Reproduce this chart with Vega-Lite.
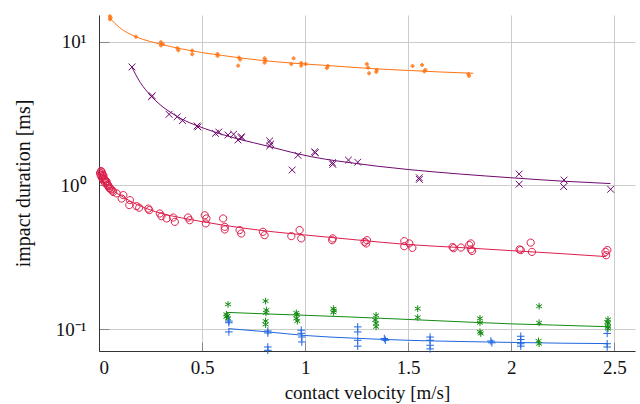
{
  "$schema": "https://vega.github.io/schema/vega-lite/v6.json",
  "width": 536,
  "height": 336,
  "autosize": "none",
  "padding": {"left": 99, "top": 15, "right": 5, "bottom": 53},
  "background": "white",
  "config": {
    "font": "Liberation Serif",
    "view": {"stroke": null}
  },
  "datasets": {
    "pts": [
      {"s": "T2–10 mm", "x": 0.053, "y": 15.0}, {"s": "T2–10 mm", "x": 0.053, "y": 14.3}, {"s": "T2–10 mm", "x": 0.056, "y": 14.6},
      {"s": "T2–10 mm", "x": 0.179, "y": 10.8}, {"s": "T2–10 mm", "x": 0.30, "y": 9.9}, {"s": "T2–10 mm", "x": 0.30, "y": 9.4},
      {"s": "T2–10 mm", "x": 0.31, "y": 9.6}, {"s": "T2–10 mm", "x": 0.38, "y": 9.0}, {"s": "T2–10 mm", "x": 0.385, "y": 8.7},
      {"s": "T2–10 mm", "x": 0.452, "y": 8.65}, {"s": "T2–10 mm", "x": 0.452, "y": 8.16}, {"s": "T2–10 mm", "x": 0.575, "y": 8.2},
      {"s": "T2–10 mm", "x": 0.575, "y": 7.95}, {"s": "T2–10 mm", "x": 0.679, "y": 7.73}, {"s": "T2–10 mm", "x": 0.675, "y": 6.8},
      {"s": "T2–10 mm", "x": 0.685, "y": 7.5}, {"s": "T2–10 mm", "x": 0.803, "y": 7.65}, {"s": "T2–10 mm", "x": 0.803, "y": 7.13},
      {"s": "T2–10 mm", "x": 0.808, "y": 7.4}, {"s": "T2–10 mm", "x": 0.933, "y": 6.98}, {"s": "T2–10 mm", "x": 0.944, "y": 7.65},
      {"s": "T2–10 mm", "x": 0.981, "y": 7.1}, {"s": "T2–10 mm", "x": 0.981, "y": 6.8}, {"s": "T2–10 mm", "x": 1.002, "y": 6.98},
      {"s": "T2–10 mm", "x": 1.11, "y": 6.76}, {"s": "T2–10 mm", "x": 1.105, "y": 6.55}, {"s": "T2–10 mm", "x": 1.299, "y": 6.98},
      {"s": "T2–10 mm", "x": 1.305, "y": 6.6}, {"s": "T2–10 mm", "x": 1.31, "y": 6.02}, {"s": "T2–10 mm", "x": 1.347, "y": 6.35},
      {"s": "T2–10 mm", "x": 1.345, "y": 6.15}, {"s": "T2–10 mm", "x": 1.521, "y": 6.76}, {"s": "T2–10 mm", "x": 1.567, "y": 6.87},
      {"s": "T2–10 mm", "x": 1.583, "y": 6.35}, {"s": "T2–10 mm", "x": 1.578, "y": 6.2}, {"s": "T2–10 mm", "x": 1.792, "y": 5.95},
      {"s": "T2–10 mm", "x": 1.795, "y": 5.77},
      {"s": "SAA", "x": 0.160, "y": 6.66}, {"s": "SAA", "x": 0.255, "y": 4.14}, {"s": "SAA", "x": 0.258, "y": 4.2},
      {"s": "SAA", "x": 0.340, "y": 3.12}, {"s": "SAA", "x": 0.379, "y": 3.0}, {"s": "SAA", "x": 0.405, "y": 2.82},
      {"s": "SAA", "x": 0.476, "y": 2.59}, {"s": "SAA", "x": 0.48, "y": 2.55}, {"s": "SAA", "x": 0.565, "y": 2.30},
      {"s": "SAA", "x": 0.581, "y": 2.35}, {"s": "SAA", "x": 0.626, "y": 2.24}, {"s": "SAA", "x": 0.653, "y": 2.27},
      {"s": "SAA", "x": 0.691, "y": 2.18}, {"s": "SAA", "x": 0.674, "y": 2.07}, {"s": "SAA", "x": 0.69, "y": 2.14},
      {"s": "SAA", "x": 0.828, "y": 2.04}, {"s": "SAA", "x": 0.828, "y": 1.88}, {"s": "SAA", "x": 0.833, "y": 1.94},
      {"s": "SAA", "x": 0.965, "y": 1.62}, {"s": "SAA", "x": 0.937, "y": 1.28}, {"s": "SAA", "x": 1.045, "y": 1.71},
      {"s": "SAA", "x": 1.05, "y": 1.69}, {"s": "SAA", "x": 1.134, "y": 1.40}, {"s": "SAA", "x": 1.132, "y": 1.44},
      {"s": "SAA", "x": 1.210, "y": 1.50}, {"s": "SAA", "x": 1.255, "y": 1.45}, {"s": "SAA", "x": 1.554, "y": 1.13},
      {"s": "SAA", "x": 1.554, "y": 1.10}, {"s": "SAA", "x": 2.038, "y": 1.20}, {"s": "SAA", "x": 2.038, "y": 1.02},
      {"s": "SAA", "x": 2.256, "y": 1.09}, {"s": "SAA", "x": 2.254, "y": 0.98}, {"s": "SAA", "x": 2.482, "y": 0.94},
      {"s": "PVC", "x": 0.005, "y": 1.22}, {"s": "PVC", "x": 0.008, "y": 1.18}, {"s": "PVC", "x": 0.01, "y": 1.26},
      {"s": "PVC", "x": 0.012, "y": 1.15}, {"s": "PVC", "x": 0.014, "y": 1.21}, {"s": "PVC", "x": 0.016, "y": 1.12},
      {"s": "PVC", "x": 0.02, "y": 1.16}, {"s": "PVC", "x": 0.022, "y": 1.08}, {"s": "PVC", "x": 0.026, "y": 1.11},
      {"s": "PVC", "x": 0.03, "y": 1.04}, {"s": "PVC", "x": 0.034, "y": 1.07}, {"s": "PVC", "x": 0.04, "y": 1.01},
      {"s": "PVC", "x": 0.045, "y": 0.99}, {"s": "PVC", "x": 0.05, "y": 0.96}, {"s": "PVC", "x": 0.058, "y": 0.94},
      {"s": "PVC", "x": 0.065, "y": 0.92}, {"s": "PVC", "x": 0.013, "y": 1.24}, {"s": "PVC", "x": 0.021, "y": 1.18},
      {"s": "PVC", "x": 0.029, "y": 1.09}, {"s": "PVC", "x": 0.037, "y": 1.06}, {"s": "PVC", "x": 0.045, "y": 1.0},
      {"s": "PVC", "x": 0.053, "y": 0.953}, {"s": "PVC", "x": 0.069, "y": 0.90}, {"s": "PVC", "x": 0.086, "y": 0.88},
      {"s": "PVC", "x": 0.118, "y": 0.856}, {"s": "PVC", "x": 0.11, "y": 0.81}, {"s": "PVC", "x": 0.15, "y": 0.79},
      {"s": "PVC", "x": 0.147, "y": 0.73}, {"s": "PVC", "x": 0.182, "y": 0.718}, {"s": "PVC", "x": 0.195, "y": 0.70},
      {"s": "PVC", "x": 0.239, "y": 0.69}, {"s": "PVC", "x": 0.244, "y": 0.673}, {"s": "PVC", "x": 0.295, "y": 0.638},
      {"s": "PVC", "x": 0.303, "y": 0.611}, {"s": "PVC", "x": 0.328, "y": 0.589}, {"s": "PVC", "x": 0.36, "y": 0.598},
      {"s": "PVC", "x": 0.368, "y": 0.558}, {"s": "PVC", "x": 0.432, "y": 0.598}, {"s": "PVC", "x": 0.44, "y": 0.573},
      {"s": "PVC", "x": 0.513, "y": 0.62}, {"s": "PVC", "x": 0.521, "y": 0.589}, {"s": "PVC", "x": 0.518, "y": 0.544},
      {"s": "PVC", "x": 0.602, "y": 0.589}, {"s": "PVC", "x": 0.61, "y": 0.515}, {"s": "PVC", "x": 0.61, "y": 0.494},
      {"s": "PVC", "x": 0.682, "y": 0.489}, {"s": "PVC", "x": 0.69, "y": 0.463}, {"s": "PVC", "x": 0.795, "y": 0.476},
      {"s": "PVC", "x": 0.803, "y": 0.451}, {"s": "PVC", "x": 0.933, "y": 0.444}, {"s": "PVC", "x": 0.973, "y": 0.489},
      {"s": "PVC", "x": 0.981, "y": 0.428}, {"s": "PVC", "x": 1.131, "y": 0.416}, {"s": "PVC", "x": 1.134, "y": 0.428},
      {"s": "PVC", "x": 1.288, "y": 0.405}, {"s": "PVC", "x": 1.296, "y": 0.395}, {"s": "PVC", "x": 1.30, "y": 0.416},
      {"s": "PVC", "x": 1.481, "y": 0.41}, {"s": "PVC", "x": 1.481, "y": 0.378}, {"s": "PVC", "x": 1.505, "y": 0.395},
      {"s": "PVC", "x": 1.52, "y": 0.368}, {"s": "PVC", "x": 1.715, "y": 0.373}, {"s": "PVC", "x": 1.72, "y": 0.366},
      {"s": "PVC", "x": 1.756, "y": 0.37}, {"s": "PVC", "x": 1.796, "y": 0.385}, {"s": "PVC", "x": 1.804, "y": 0.395},
      {"s": "PVC", "x": 1.81, "y": 0.35}, {"s": "PVC", "x": 1.804, "y": 0.359}, {"s": "PVC", "x": 2.04, "y": 0.359},
      {"s": "PVC", "x": 2.046, "y": 0.355}, {"s": "PVC", "x": 2.094, "y": 0.40}, {"s": "PVC", "x": 2.10, "y": 0.345},
      {"s": "PVC", "x": 2.457, "y": 0.345}, {"s": "PVC", "x": 2.46, "y": 0.327}, {"s": "PVC", "x": 2.466, "y": 0.355},
      {"s": "aluminum 1ˢᵗ", "x": 0.626, "y": 0.149}, {"s": "aluminum 1ˢᵗ", "x": 0.618, "y": 0.127}, {"s": "aluminum 1ˢᵗ", "x": 0.618, "y": 0.122},
      {"s": "aluminum 1ˢᵗ", "x": 0.626, "y": 0.119}, {"s": "aluminum 1ˢᵗ", "x": 0.622, "y": 0.124}, {"s": "aluminum 1ˢᵗ", "x": 0.808, "y": 0.157},
      {"s": "aluminum 1ˢᵗ", "x": 0.812, "y": 0.136}, {"s": "aluminum 1ˢᵗ", "x": 0.808, "y": 0.114}, {"s": "aluminum 1ˢᵗ", "x": 0.808, "y": 0.108},
      {"s": "aluminum 1ˢᵗ", "x": 0.81, "y": 0.13}, {"s": "aluminum 1ˢᵗ", "x": 0.957, "y": 0.130}, {"s": "aluminum 1ˢᵗ", "x": 0.957, "y": 0.119},
      {"s": "aluminum 1ˢᵗ", "x": 0.962, "y": 0.114}, {"s": "aluminum 1ˢᵗ", "x": 0.96, "y": 0.126}, {"s": "aluminum 1ˢᵗ", "x": 1.137, "y": 0.139},
      {"s": "aluminum 1ˢᵗ", "x": 1.137, "y": 0.131}, {"s": "aluminum 1ˢᵗ", "x": 1.14, "y": 0.135}, {"s": "aluminum 1ˢᵗ", "x": 1.344, "y": 0.125},
      {"s": "aluminum 1ˢᵗ", "x": 1.344, "y": 0.110}, {"s": "aluminum 1ˢᵗ", "x": 1.344, "y": 0.104}, {"s": "aluminum 1ˢᵗ", "x": 1.34, "y": 0.116},
      {"s": "aluminum 1ˢᵗ", "x": 1.546, "y": 0.139}, {"s": "aluminum 1ˢᵗ", "x": 1.546, "y": 0.121}, {"s": "aluminum 1ˢᵗ", "x": 1.848, "y": 0.119},
      {"s": "aluminum 1ˢᵗ", "x": 1.848, "y": 0.111}, {"s": "aluminum 1ˢᵗ", "x": 1.848, "y": 0.096}, {"s": "aluminum 1ˢᵗ", "x": 1.852, "y": 0.0935},
      {"s": "aluminum 1ˢᵗ", "x": 2.135, "y": 0.1445}, {"s": "aluminum 1ˢᵗ", "x": 2.135, "y": 0.111}, {"s": "aluminum 1ˢᵗ", "x": 2.132, "y": 0.083},
      {"s": "aluminum 1ˢᵗ", "x": 2.135, "y": 0.0793}, {"s": "aluminum 1ˢᵗ", "x": 2.469, "y": 0.117}, {"s": "aluminum 1ˢᵗ", "x": 2.469, "y": 0.110},
      {"s": "aluminum 1ˢᵗ", "x": 2.469, "y": 0.104}, {"s": "aluminum 1ˢᵗ", "x": 2.469, "y": 0.101}, {"s": "aluminum 1ˢᵗ", "x": 2.466, "y": 0.112},
      {"s": "steel 1ˢᵗ", "x": 0.630, "y": 0.114}, {"s": "steel 1ˢᵗ", "x": 0.630, "y": 0.111}, {"s": "steel 1ˢᵗ", "x": 0.630, "y": 0.0958},
      {"s": "steel 1ˢᵗ", "x": 0.819, "y": 0.0973}, {"s": "steel 1ˢᵗ", "x": 0.819, "y": 0.0942}, {"s": "steel 1ˢᵗ", "x": 0.819, "y": 0.0753},
      {"s": "steel 1ˢᵗ", "x": 0.819, "y": 0.0714}, {"s": "steel 1ˢᵗ", "x": 0.981, "y": 0.0985}, {"s": "steel 1ˢᵗ", "x": 0.981, "y": 0.0938},
      {"s": "steel 1ˢᵗ", "x": 0.984, "y": 0.0883}, {"s": "steel 1ˢᵗ", "x": 0.984, "y": 0.0816}, {"s": "steel 1ˢᵗ", "x": 1.255, "y": 0.1038},
      {"s": "steel 1ˢᵗ", "x": 1.255, "y": 0.0958}, {"s": "steel 1ˢᵗ", "x": 1.255, "y": 0.0838}, {"s": "steel 1ˢᵗ", "x": 1.255, "y": 0.0763},
      {"s": "steel 1ˢᵗ", "x": 1.384, "y": 0.0862}, {"s": "steel 1ˢᵗ", "x": 1.389, "y": 0.0838}, {"s": "steel 1ˢᵗ", "x": 1.606, "y": 0.0883},
      {"s": "steel 1ˢᵗ", "x": 1.606, "y": 0.0838}, {"s": "steel 1ˢᵗ", "x": 1.606, "y": 0.0774}, {"s": "steel 1ˢᵗ", "x": 1.606, "y": 0.073},
      {"s": "steel 1ˢᵗ", "x": 1.901, "y": 0.0829}, {"s": "steel 1ˢᵗ", "x": 1.906, "y": 0.0805}, {"s": "steel 1ˢᵗ", "x": 2.046, "y": 0.0894},
      {"s": "steel 1ˢᵗ", "x": 2.046, "y": 0.0848}, {"s": "steel 1ˢᵗ", "x": 2.046, "y": 0.0793}, {"s": "steel 1ˢᵗ", "x": 2.046, "y": 0.0763},
      {"s": "steel 1ˢᵗ", "x": 2.465, "y": 0.0935}, {"s": "steel 1ˢᵗ", "x": 2.465, "y": 0.0793}, {"s": "steel 1ˢᵗ", "x": 2.465, "y": 0.0753}
    ],
    "fit": [
      {"s": "T2–10 mm", "x": 0.053, "y": 14.5}, {"s": "T2–10 mm", "x": 0.1, "y": 12.5}, {"s": "T2–10 mm", "x": 0.179, "y": 10.8},
      {"s": "T2–10 mm", "x": 0.25, "y": 10.0}, {"s": "T2–10 mm", "x": 0.303, "y": 9.55}, {"s": "T2–10 mm", "x": 0.4, "y": 8.9},
      {"s": "T2–10 mm", "x": 0.497, "y": 8.4}, {"s": "T2–10 mm", "x": 0.6, "y": 8.0}, {"s": "T2–10 mm", "x": 0.7, "y": 7.65},
      {"s": "T2–10 mm", "x": 0.852, "y": 7.25}, {"s": "T2–10 mm", "x": 1.0, "y": 6.98}, {"s": "T2–10 mm", "x": 1.15, "y": 6.75},
      {"s": "T2–10 mm", "x": 1.312, "y": 6.5}, {"s": "T2–10 mm", "x": 1.5, "y": 6.3}, {"s": "T2–10 mm", "x": 1.65, "y": 6.15},
      {"s": "T2–10 mm", "x": 1.815, "y": 6.02},
      {"s": "SAA", "x": 0.158, "y": 6.7}, {"s": "SAA", "x": 0.2, "y": 5.2}, {"s": "SAA", "x": 0.252, "y": 4.2},
      {"s": "SAA", "x": 0.3, "y": 3.6}, {"s": "SAA", "x": 0.35, "y": 3.2}, {"s": "SAA", "x": 0.4, "y": 2.9},
      {"s": "SAA", "x": 0.476, "y": 2.6}, {"s": "SAA", "x": 0.55, "y": 2.38}, {"s": "SAA", "x": 0.65, "y": 2.15},
      {"s": "SAA", "x": 0.75, "y": 1.98}, {"s": "SAA", "x": 0.828, "y": 1.86}, {"s": "SAA", "x": 0.962, "y": 1.66},
      {"s": "SAA", "x": 1.1, "y": 1.52}, {"s": "SAA", "x": 1.2, "y": 1.45}, {"s": "SAA", "x": 1.35, "y": 1.36},
      {"s": "SAA", "x": 1.5, "y": 1.29}, {"s": "SAA", "x": 1.75, "y": 1.2}, {"s": "SAA", "x": 2.0, "y": 1.13},
      {"s": "SAA", "x": 2.25, "y": 1.07}, {"s": "SAA", "x": 2.481, "y": 1.03},
      {"s": "PVC", "x": 0.005, "y": 1.2}, {"s": "PVC", "x": 0.01, "y": 1.15}, {"s": "PVC", "x": 0.02, "y": 1.08},
      {"s": "PVC", "x": 0.04, "y": 0.99}, {"s": "PVC", "x": 0.07, "y": 0.91}, {"s": "PVC", "x": 0.1, "y": 0.86},
      {"s": "PVC", "x": 0.15, "y": 0.78}, {"s": "PVC", "x": 0.2, "y": 0.72}, {"s": "PVC", "x": 0.3, "y": 0.64},
      {"s": "PVC", "x": 0.4, "y": 0.595}, {"s": "PVC", "x": 0.5, "y": 0.56}, {"s": "PVC", "x": 0.6, "y": 0.53},
      {"s": "PVC", "x": 0.7, "y": 0.505}, {"s": "PVC", "x": 0.85, "y": 0.475}, {"s": "PVC", "x": 1.0, "y": 0.452},
      {"s": "PVC", "x": 1.25, "y": 0.418}, {"s": "PVC", "x": 1.5, "y": 0.388}, {"s": "PVC", "x": 1.75, "y": 0.37},
      {"s": "PVC", "x": 2.0, "y": 0.352}, {"s": "PVC", "x": 2.25, "y": 0.335}, {"s": "PVC", "x": 2.46, "y": 0.32},
      {"s": "aluminum 1ˢᵗ", "x": 0.62, "y": 0.131}, {"s": "aluminum 1ˢᵗ", "x": 0.8, "y": 0.128}, {"s": "aluminum 1ˢᵗ", "x": 1.0, "y": 0.125},
      {"s": "aluminum 1ˢᵗ", "x": 1.2, "y": 0.122}, {"s": "aluminum 1ˢᵗ", "x": 1.5, "y": 0.117}, {"s": "aluminum 1ˢᵗ", "x": 1.8, "y": 0.112},
      {"s": "aluminum 1ˢᵗ", "x": 2.0, "y": 0.109}, {"s": "aluminum 1ˢᵗ", "x": 2.2, "y": 0.107}, {"s": "aluminum 1ˢᵗ", "x": 2.48, "y": 0.104},
      {"s": "steel 1ˢᵗ", "x": 0.63, "y": 0.101}, {"s": "steel 1ˢᵗ", "x": 0.82, "y": 0.0958}, {"s": "steel 1ˢᵗ", "x": 1.0, "y": 0.0905},
      {"s": "steel 1ˢᵗ", "x": 1.25, "y": 0.0865}, {"s": "steel 1ˢᵗ", "x": 1.5, "y": 0.0838}, {"s": "steel 1ˢᵗ", "x": 1.75, "y": 0.0822},
      {"s": "steel 1ˢᵗ", "x": 2.0, "y": 0.081}, {"s": "steel 1ˢᵗ", "x": 2.25, "y": 0.08}, {"s": "steel 1ˢᵗ", "x": 2.47, "y": 0.0795}
    ]
  },
  "encoding": {
    "x": {"field": "x", "type": "quantitative", "scale": {"domain": [0, 2.6], "nice": false, "zero": false},
      "axis": {"values": [0, 0.5, 1, 1.5, 2, 2.5], "format": "~g", "grid": true, "gridColor": "#cccccc", "domainColor": "#333333", "tickColor": "#888888", "tickSize": -9, "labelPadding": 16,
        "labelFont": "Liberation Serif", "labelFontSize": 19, "labelColor": "#111111", "titleFont": "Liberation Serif", "titleFontSize": 19, "titleFontWeight": "normal", "titleColor": "#111111",
        "title": "contact velocity [m/s]", "titlePadding": 6}},
    "y": {"field": "y", "type": "quantitative", "scale": {"type": "log", "domain": [0.0706, 15.3], "nice": false},
      "axis": {"values": [0.1, 1, 10], "grid": true, "gridColor": "#cccccc", "domainColor": "#333333", "tickColor": "#888888", "tickSize": -10, "labelPadding": 23,
        "labelFont": "Liberation Serif", "labelFontSize": 19, "labelColor": "#111111", "titleFont": "Liberation Serif", "titleFontSize": 20, "titleFontWeight": "normal", "titleColor": "#111111",
        "labelExpr": "datum.value >= 5 ? '10¹' : datum.value >= 0.5 ? '10⁰' : '10⁻¹'", "title": "impact duration [ms]", "titlePadding": 22}}
  },
  "layer": [
    {
      "data": {"name": "fit"},
      "mark": {"type": "line", "strokeWidth": 1, "interpolate": "monotone"},
      "encoding": {
        "stroke": {"field": "s", "type": "nominal", "legend": null,
          "scale": {"domain": ["T2–10 mm", "SAA", "PVC", "aluminum 1ˢᵗ", "steel 1ˢᵗ"], "range": ["#ff7412", "#6e0a6e", "#dc1e4b", "#128c12", "#1f66e0"]}}
      }
    },
    {
      "data": {"name": "pts"},
      "mark": {"type": "point", "strokeWidth": 1, "opacity": 1, "filled": false, "size": 64},
      "encoding": {
        "color": {"field": "s", "type": "nominal",
          "legend": {"title": null, "orient": "none", "legendX": 375, "legendY": 8, "padding": 8, "fillColor": "white", "strokeColor": "#333333", "labelFont": "Liberation Serif", "labelFontSize": 20, "labelColor": "#111111", "labelOffset": 4, "rowPadding": 6, "symbolStrokeWidth": 1, "symbolSize": 56},
          "scale": {"domain": ["T2–10 mm", "SAA", "PVC", "aluminum 1ˢᵗ", "steel 1ˢᵗ"], "range": ["#ff7412", "#6e0a6e", "#dc1e4b", "#128c12", "#1f66e0"]}},
        "shape": {"field": "s", "type": "nominal",
          "legend": {"title": null, "orient": "none", "legendX": 375, "legendY": 8, "padding": 8, "fillColor": "white", "strokeColor": "#333333", "labelFont": "Liberation Serif", "labelFontSize": 20, "labelColor": "#111111", "labelOffset": 4, "rowPadding": 6, "symbolStrokeWidth": 1, "symbolSize": 56},
          "scale": {"domain": ["T2–10 mm", "SAA", "PVC", "aluminum 1ˢᵗ", "steel 1ˢᵗ"], "range": [
            "M0.38,0A0.38,0.38 0 1,1 -0.38,0A0.38,0.38 0 1,1 0.38,0M0.2,0A0.2,0.2 0 1,1 -0.2,0A0.2,0.2 0 1,1 0.2,0M0.06,0A0.06,0.06 0 1,1 -0.06,0A0.06,0.06 0 1,1 0.06,0",
            "M-0.85,-0.85L0.85,0.85M-0.85,0.85L0.85,-0.85",
            "M0.9,0A0.9,0.9 0 1,1 -0.9,0A0.9,0.9 0 1,1 0.9,0Z",
            "M0,-0.85L0,0.85M-0.74,-0.425L0.74,0.425M-0.74,0.425L0.74,-0.425",
            "M-0.95,0L0.95,0M0,-0.95L0,0.95"]}}
      }
    }
  ]
}
